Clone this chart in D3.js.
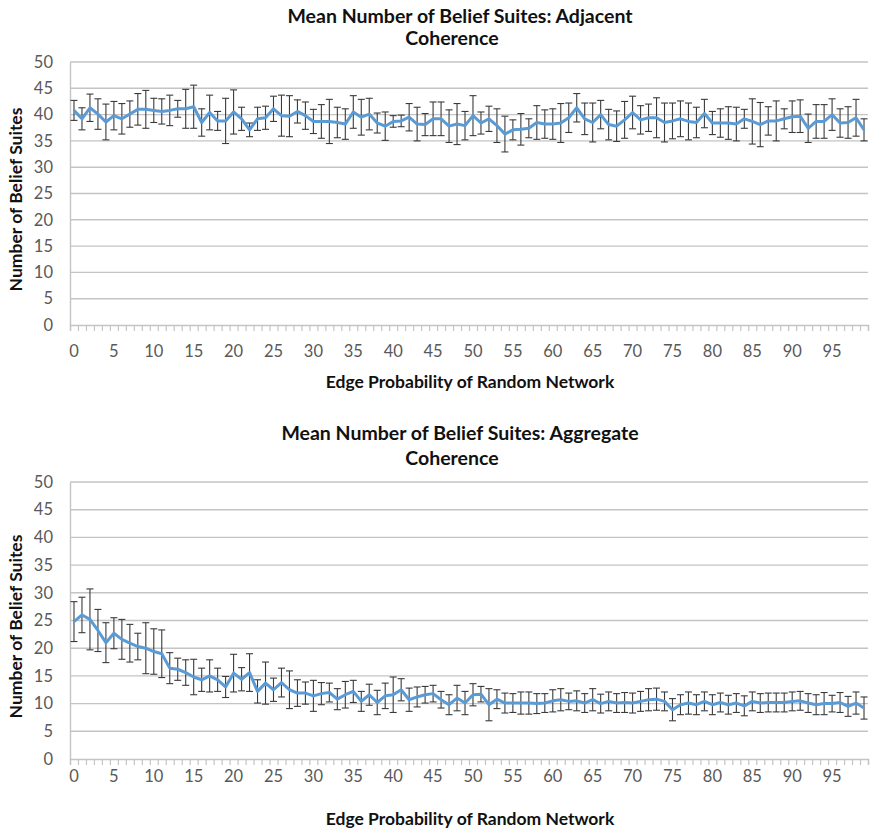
<!DOCTYPE html>
<html><head><meta charset="utf-8">
<script src="https://cdn.jsdelivr.net/npm/d3@7"></script>
<style>
body{margin:0;background:#fff}
text{font-family:Lato,"Open Sans",sans-serif}
</style>
</head><body>
<svg id="c" width="871" height="832"></svg>
<script>
const categories = d3.range(0, 100);
const xTickLabels = ["0","5","10","15","20","25","30","35","40","45","50","55","60","65","70","75","80","85","90","95"];
const yTickValues = [0,5,10,15,20,25,30,35,40,45,50];

const adjacentMean = [
40.8,39.2,41.3,40.1,38.6,39.8,39.2,40.1,41.0,41.0,
40.8,40.6,40.8,41.1,41.1,41.5,38.5,40.4,38.8,38.8,
40.5,39.2,37.1,39.2,39.4,41.1,39.8,39.7,40.6,39.8,
38.7,38.7,38.7,38.5,38.2,40.5,39.5,40.1,38.4,37.8,
38.7,38.8,39.5,38.2,38.1,39.2,39.2,37.8,38.2,37.9,
39.8,38.4,39.2,37.9,36.3,37.1,37.2,37.4,38.5,38.2,
38.2,38.4,39.4,41.3,39.2,38.5,40.0,38.1,37.8,39.0,
40.4,39.0,39.4,39.4,38.5,38.8,39.2,38.7,38.5,40.2,
38.4,38.4,38.4,38.2,39.2,38.7,38.1,38.8,38.8,39.2,
39.6,39.7,37.4,38.7,38.7,40.0,38.4,38.5,39.4,37.1];
const adjacentErr = [
1.9,2.1,2.6,2.9,3.4,2.7,2.9,2.5,3.0,3.6,
2.3,2.4,2.9,1.6,3.7,4.1,2.6,3.3,1.8,4.3,
4.2,2.2,1.3,2.2,2.2,2.4,3.9,3.9,2.2,2.6,
2.3,3.2,4.2,2.9,2.9,3.1,3.4,3.0,1.9,2.7,
1.1,1.1,2.6,3.2,2.1,3.2,3.2,3.1,3.9,2.7,
3.8,2.1,2.4,3.2,3.4,1.9,3.0,1.8,3.2,2.7,
2.9,3.7,2.8,2.7,3.0,3.7,2.7,2.9,2.9,3.5,
3.1,2.7,2.6,3.8,3.7,3.4,3.4,3.5,2.9,2.7,
2.2,2.7,3.1,3.2,1.8,4.3,4.2,2.7,3.8,1.9,
3.0,3.1,2.7,3.2,3.2,3.0,2.7,3.0,3.5,2.1];
const aggregateMean = [
24.8,26.0,25.2,23.2,21.0,22.7,21.6,20.9,20.3,20.0,
19.4,19.0,16.4,16.2,15.6,14.8,14.3,15.0,14.3,13.0,
15.5,14.4,15.6,12.2,13.7,12.5,13.8,12.5,11.9,11.9,
11.4,11.8,12.0,10.8,11.6,12.2,10.4,11.6,10.2,11.4,
11.6,12.5,10.7,11.2,11.6,11.8,10.7,9.8,11.0,10.1,
11.6,11.7,9.8,10.8,10.1,10.1,10.1,10.1,10.0,10.1,
10.5,10.7,10.4,10.5,10.1,10.7,10.0,10.4,10.1,10.2,
10.1,10.4,10.7,10.8,10.4,8.9,9.8,10.1,9.8,10.4,
9.8,10.2,9.8,10.1,9.6,10.4,10.1,10.2,10.2,10.2,
10.4,10.5,10.1,9.8,10.0,10.0,10.2,9.5,10.1,9.2];
const aggregateErr = [
3.6,3.2,5.5,3.8,3.6,2.8,3.6,3.4,2.4,4.6,
4.1,4.3,2.8,2.0,2.3,3.2,2.1,2.9,2.1,1.9,
3.4,2.1,3.4,2.1,3.8,2.1,2.6,3.4,2.4,2.0,
2.8,2.0,1.7,1.9,2.4,2.0,1.8,1.9,2.2,2.3,
3.2,2.0,2.1,1.8,1.5,1.5,1.5,1.8,2.3,2.1,
2.0,1.4,2.9,1.7,1.8,1.7,2.0,2.0,1.8,1.7,
2.0,2.0,1.5,1.8,1.7,2.0,1.7,1.7,1.7,1.8,
1.8,1.8,2.0,2.0,1.7,2.0,1.8,2.0,1.8,1.7,
1.8,1.7,1.7,1.7,1.8,1.7,1.7,1.7,1.7,1.7,
1.7,1.7,1.7,1.8,2.0,1.5,1.8,1.8,2.0,2.0];

const svg = d3.select("#c");
const X0 = 70, X1 = 868;
const gridColor = "#c4c4c4", textColor = "#595959", titleColor = "#111";

function drawChart(cfg) {
  const g = svg.append("g");
  const x = d3.scaleBand().domain(categories).range([X0, X1]);
  const xb = d3.scaleLinear().domain([0, categories.length]).range([X0, X1]);
  const y = d3.scaleLinear().domain([0, 50]).range([cfg.bottom, cfg.top]);

  g.append("g").selectAll("line").data(yTickValues.filter(v => v > 0)).join("line")
    .attr("x1", X0).attr("x2", X1).attr("y1", d => y(d)).attr("y2", d => y(d))
    .attr("stroke", gridColor).attr("stroke-width", 1.4);

  const ya = g.append("g").attr("transform", `translate(${X0},0)`)
    .call(d3.axisLeft(y).tickValues(yTickValues).tickSize(0).tickPadding(17));
  ya.select(".domain").attr("stroke", gridColor).attr("stroke-width", 1.4);
  ya.selectAll("text").attr("fill", textColor).style("font-size", "16.5px").style("font-family", "Lato");

  const xt = g.append("g").attr("transform", `translate(0,${cfg.bottom})`)
    .call(d3.axisBottom(xb).tickValues(d3.range(0, categories.length + 1)).tickSize(6).tickFormat(""));
  xt.selectAll("line").attr("stroke", gridColor).attr("stroke-width", 1.2);
  xt.select(".domain").attr("stroke", gridColor).attr("stroke-width", 1.4);

  const xl = g.append("g").attr("transform", `translate(0,${cfg.bottom})`)
    .call(d3.axisBottom(x).tickValues(categories.filter(c => c % 5 === 0)).tickSize(0).tickPadding(cfg.labelPad)
      .tickFormat((d, i) => xTickLabels[i]));
  xl.select(".domain").remove();
  xl.selectAll("text").attr("fill", textColor).style("font-size", "16.5px").style("font-family", "Lato");

  const eb = g.append("g").attr("stroke", "#3a3a3a").attr("stroke-width", 1.1);
  categories.forEach((c, i) => {
    const cx = x(c) + x.bandwidth() / 2;
    const lo = y(cfg.mean[i] - cfg.err[i]), hi = y(cfg.mean[i] + cfg.err[i]);
    eb.append("line").attr("x1", cx).attr("x2", cx).attr("y1", lo).attr("y2", hi);
    eb.append("line").attr("x1", cx - 3.5).attr("x2", cx + 3.5).attr("y1", lo).attr("y2", lo);
    eb.append("line").attr("x1", cx - 3.5).attr("x2", cx + 3.5).attr("y1", hi).attr("y2", hi);
  });

  const line = d3.line().x((d, i) => x(categories[i]) + x.bandwidth() / 2).y(d => y(d));
  g.append("path").datum(cfg.mean).attr("d", line).attr("fill", "none")
    .attr("stroke", "#5b9bd5").attr("stroke-width", 3).attr("stroke-linejoin", "round");

  const tt = g.append("text").attr("text-anchor", "middle").attr("fill", titleColor)
    .style("font-size", "19.5px").style("font-weight", "bold");
  tt.append("tspan").attr("x", cfg.titleX).attr("y", cfg.titleY).text(cfg.title1);
  tt.append("tspan").attr("x", cfg.titleX - 8).attr("y", cfg.titleY + cfg.titleGap).text(cfg.title2);

  g.append("text").attr("x", 470).attr("y", cfg.xTitleY).attr("text-anchor", "middle")
    .attr("fill", titleColor).style("font-size", "17.5px").style("font-weight", "bold")
    .text("Edge Probability of Random Network");

  g.append("text").attr("transform", `translate(22,${(cfg.top + cfg.bottom) / 2 + 6}) rotate(-90)`)
    .attr("text-anchor", "middle").attr("fill", titleColor).style("font-size", "17.5px").style("font-weight", "bold")
    .text("Number of Belief Suites");
}

drawChart({top: 62, bottom: 325, mean: adjacentMean, err: adjacentErr,
  title1: "Mean Number of Belief Suites: Adjacent", title2: "Coherence",
  titleX: 460, titleY: 23, titleGap: 22, xTitleY: 388, labelPad: 20});
drawChart({top: 482, bottom: 759, mean: aggregateMean, err: aggregateErr,
  title1: "Mean Number of Belief Suites: Aggregate", title2: "Coherence",
  titleX: 460, titleY: 440, titleGap: 25, xTitleY: 825, labelPad: 11});
</script>
</body></html>
